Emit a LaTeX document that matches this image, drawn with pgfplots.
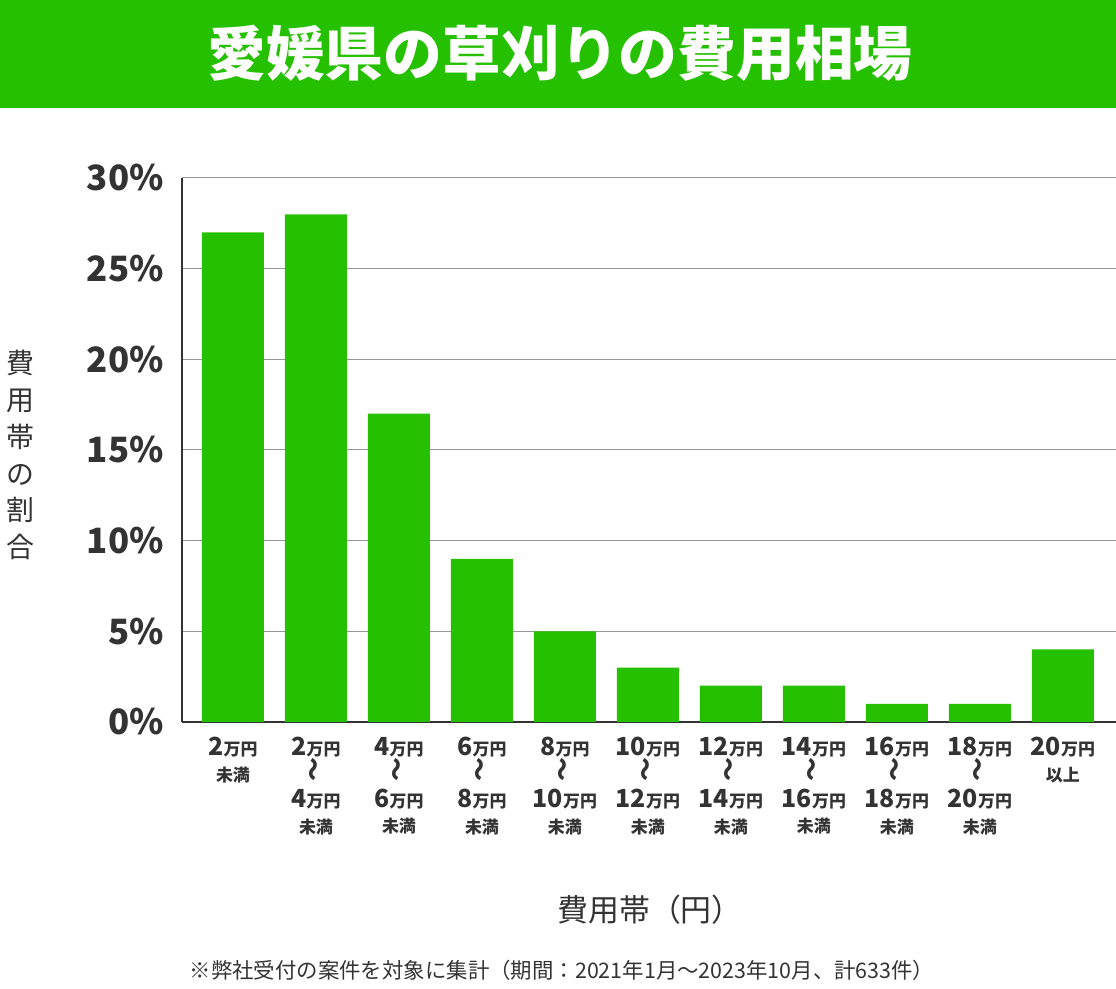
\documentclass[border=0pt]{standalone}
\usepackage{pgfplots}
\pgfplotsset{compat=1.18}
\usepackage{graphicx}
\usepackage{fontspec}
\setmainfont{Noto Sans CJK JP}
\definecolor{barg}{RGB}{37,192,0}
\definecolor{txt}{RGB}{51,51,51}
\definecolor{gridc}{RGB}{150,150,150}
\newcommand{\nm}[1]{{\fontsize{25}{26}\selectfont\bfseries #1}{\fontsize{17}{26}\selectfont\bfseries 万円}}
\newcommand{\mm}{{\fontsize{17}{24}\selectfont\bfseries 未満}}
\newcommand{\ijo}{{\fontsize{17}{24}\selectfont\bfseries 以上}}
\newcommand{\wv}{{\fontsize{24}{26}\selectfont\bfseries\rotatebox{90}{〜}}}
\begin{document}
\begin{tikzpicture}
\useasboundingbox (0,0) rectangle (1116bp,989bp);
\fill[barg] (0,881bp) rectangle (1116bp,989bp);
\node[white, font=\fontsize{59}{60}\selectfont\bfseries] at (560bp,936bp) {愛媛県の草刈りの費用相場};
\begin{axis}[
  at={(182bp,267bp)}, anchor=south west,
  scale only axis, width=934bp, height=544bp,
  xmin=-0.614, xmax=10.64, ymin=0, ymax=30,
  axis x line*=bottom, axis y line*=left,
  axis line style={-, line width=1.2bp, draw=txt},
  ytick={0,5,10,15,20,25,30},
  yticklabels={0\%,5\%,10\%,15\%,20\%,25\%,30\%},
  yticklabel style={font=\fontsize{35}{35}\selectfont\bfseries, text=txt, inner sep=0pt, anchor=east, xshift=-18bp},
  xtick={0,...,10},
  xticklabels={
    {\nm{2}\\\mm},
    {\nm{2}\\\wv\\\nm{4}\\\mm},
    {\nm{4}\\\wv\\\nm{6}\\\mm},
    {\nm{6}\\\wv\\\nm{8}\\\mm},
    {\nm{8}\\\wv\\\nm{10}\\\mm},
    {\nm{10}\\\wv\\\nm{12}\\\mm},
    {\nm{12}\\\wv\\\nm{14}\\\mm},
    {\nm{14}\\\wv\\\nm{16}\\\mm},
    {\nm{16}\\\wv\\\nm{18}\\\mm},
    {\nm{18}\\\wv\\\nm{20}\\\mm},
    {\nm{20}\\\ijo}},
  xticklabel style={align=center, text=txt, anchor=north, inner sep=0pt, yshift=-15bp, font=\fontsize{17}{26}\selectfont},
  major tick length=0pt,
  ymajorgrids, grid style={draw=gridc, line width=1bp},
  clip=false,
]
\addplot[ybar, bar width=62bp, fill=barg, draw=none] coordinates {
(0,27) (1,28) (2,17) (3,9) (4,5) (5,3) (6,2) (7,2) (8,1) (9,1) (10,4)};
\end{axis}
\node[text=txt, align=center, font=\fontsize{28}{37}\selectfont] at (20bp,534bp) {費\\用\\帯\\の\\割\\合};
\node[text=txt, font=\fontsize{31}{32}\selectfont] at (650bp,79bp) {費用帯（円）};
\node[text=txt, font=\fontsize{21.5}{22}\selectfont] at (562bp,19bp) {※弊社受付の案件を対象に集計（期間：2021年1月～2023年10月、計633件）};
\end{tikzpicture}
\end{document}
